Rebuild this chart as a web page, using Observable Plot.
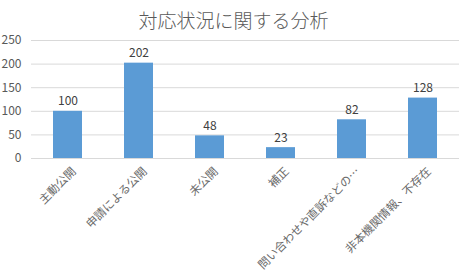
<!DOCTYPE html>
<html><head><meta charset="utf-8">
<script src="https://cdn.jsdelivr.net/npm/d3@7"></script>
<script src="https://cdn.jsdelivr.net/npm/@observablehq/plot@0.6"></script>
<style>body{margin:0;background:#fff}</style>
</head><body><div id="chart"></div>
<script>
const title = "対応状況に関する分析";
const categories = ["主動公開","申請による公開","未公開","補正","問い合わせや直訴などの…","非本機関情報、不存在"];
const values = [100,202,48,23,82,128];
const yTicks = [0,50,100,150,200,250];
const data = categories.map((c,i)=>({cat:c, v:values[i]}));
const font = "'Noto Sans CJK JP','Noto Sans',sans-serif";
const chart = Plot.plot({
  width: 471, height: 272,
  marginLeft: 31, marginRight: 12, marginTop: 40, marginBottom: 114,
  style: {fontFamily: font, background: "#fff"},
  x: {domain: categories, paddingInner: 0.59, paddingOuter: 0.295, axis: null},
  y: {domain: [0,250], axis: null},
  marks: [
    Plot.gridY(yTicks, {stroke: "#d9d9d9", strokeOpacity: 1}),
    Plot.text(yTicks, {x: null, y: d=>d, text: d=>String(d), frameAnchor: "left", textAnchor: "end", dx: -10, fontSize: 12, fill: "#595959"}),
    Plot.barY(data, {x: "cat", y: "v", fill: "#5b9bd5"}),
    Plot.text(data, {x: "cat", y: "v", text: d=>String(d.v), lineAnchor: "bottom", dy: -6, fontSize: 12, fill: "#404040"}),
    Plot.text(data, {x: "cat", y: ()=>0, text: "cat", rotate: -45, textAnchor: "end", dx: 6, dy: 11, fontSize: 11.5, fill: "#6a6a6a"}),
    Plot.text([title], {frameAnchor: "top", dx: -12, dy: -26, fontSize: 19, fill: "#595959", fontWeight: 300})
  ]
});
document.getElementById("chart").append(chart);
</script></body></html>
